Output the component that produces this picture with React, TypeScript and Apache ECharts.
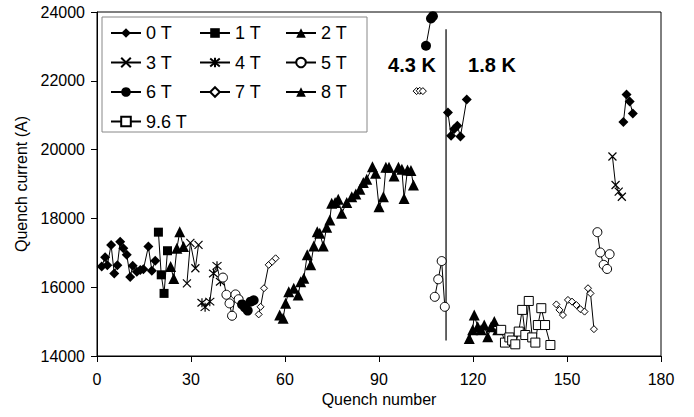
import React, { useEffect, useRef } from 'react';
import * as echarts from 'echarts';

const FONT = '"Liberation Sans", Arial, sans-serif';

const xMin = 0, xMax = 180, xStep = 30;
const yMin = 14000, yMax = 24000, yStep = 2000;

// 0 T
const t0a = [[1.5,16600],[2.6,16870],[3.3,16640],[4.5,17230],[5.5,16400],[6.5,16640],[7.4,17320],[8.4,17130],[9.5,16940],[10.6,16300],[11.4,16620],[12.7,16450],[13.8,16500],[14.8,16520],[16.4,17180],[17.5,16480],[18.6,16770]];
const t0b = [[112,21080],[113,20400],[114,20600],[115,20690],[116,20380],[118,21460]];
const t0c = [[168,20800],[169,21600],[170,21400],[171,21050]];
// 1 T
const t1 = [[19.6,17600],[20.5,16360],[21.4,15820],[22.5,17060]];
// 2 T
const t2 = [[23.5,16600],[24.5,16250],[25.5,17130],[26.4,17610],[27.6,17180]];
// 3 T
const t3a = [[28.7,16110],[29.8,17290],[31.4,16550],[32.4,17230]];
const t3b = [[164.5,19800],[165.5,18970],[166.5,18780],[167.5,18630]];
// 4 T
const t4 = [[33.5,15550],[34.5,15420],[36,15580],[37.2,16400],[38.3,16620],[39.4,16160]];
// 5 T
const t5a = [[40.2,16280],[41.3,15780],[42.3,15530],[43.1,15170],[44.2,15790],[45.2,15650]];
const t5b = [[107.8,15720],[108.9,16230],[110,16760],[111,15430]];
const t5c = [[159.7,17600],[160.6,17010],[161.7,16650],[162.8,16530],[163.6,16960]];
// 6 T
const t6a = [[46.3,15500],[47.2,15410],[48.1,15320],[49,15580],[50,15620]];
const t6b = [[105,23020],[106.6,23810],[107.2,23880]];
// 7 T
const t7a = [[51.6,15210],[52.2,15430],[53.3,15970],[54.8,16650],[55.9,16740],[57,16840]];
const t7b = [[102,21700],[103,21710],[104,21700]];
const t7c = [[146.6,15500],[147.6,15340],[148.7,15190],[150.3,15630],[151.6,15580],[153,15480],[154.3,15360],[155.6,15290],[156.7,15970],[157.5,15820],[158.6,14780]];
// 8 T
const t8a = [[58.3,15190],[59.4,15100],[60.2,15530],[61.2,15870],[62.8,15970],[64.2,15770],[65,16160],[66,16260],[67.1,16940],[68.2,16650],[69.2,17200],[70.3,17610],[71.1,17570],[72.2,17200],[73.3,17740],[74.3,17950],[74.9,18440],[76,18460],[77,18560],[78.1,18150],[79.7,18460],[81.3,18630],[82.6,18710],[83.9,18850],[85,19040],[86.1,19140],[87.9,19500],[88.9,19310],[90,18340],[91.4,18630],[92.2,19490],[93.2,19490],[94.8,19230],[96.2,19490],[97.3,19430],[98,18580],[99.1,19410],[100.2,19390],[101,18970]];
const t8b = [[118.8,14510],[119.9,14760],[120.4,15190],[121.5,14850],[122.6,14760],[123.6,14900],[124.7,14560],[125.8,14850],[126.8,15000],[127.9,14760]];
// 9.6 T
const t96 = [[129,14760],[130.2,14390],[131.6,14540],[132.5,14450],[133.5,14340],[134.6,14710],[135.7,15340],[136.7,14610],[137.8,15600],[138.9,14540],[139.9,14390],[140.7,14900],[141.8,15390],[143,14900],[144.7,14320]];

// divider between 4.3 K and 1.8 K
const divider = [[111.4,23500],[111.4,14450]];

const legendCols = [
  ['0 T', '3 T', '6 T', '9.6 T'],
  ['1 T', '4 T', '7 T'],
  ['2 T', '5 T', '8 T'],
];

const X_PATH = 'path://M0,0L10,10M10,0L0,10';
const STAR_PATH = 'path://M0,0L10,10M10,0L0,10M5,-1L5,11';

type Sty = { symbol: string; size: number; fill: string; bw: number };
const styles: Record<string, Sty> = {
  '0 T': { symbol: 'diamond', size: 10, fill: '#000', bw: 0 },
  '1 T': { symbol: 'rect', size: 9, fill: '#000', bw: 0 },
  '2 T': { symbol: 'triangle', size: 11, fill: '#000', bw: 0 },
  '3 T': { symbol: X_PATH, size: 8, fill: '#000', bw: 1.2 },
  '4 T': { symbol: STAR_PATH, size: 9, fill: '#000', bw: 1.2 },
  '5 T': { symbol: 'circle', size: 9, fill: '#fff', bw: 1 },
  '6 T': { symbol: 'circle', size: 10, fill: '#000', bw: 0 },
  '7 T': { symbol: 'diamond', size: 7, fill: '#fff', bw: 1 },
  '8 T': { symbol: 'triangle', size: 11, fill: '#000', bw: 0 },
  '9.6 T': { symbol: 'rect', size: 9, fill: '#fff', bw: 1 },
};

const segments: [string, number[][]][] = [
  ['0 T', t0a], ['0 T', t0b], ['0 T', t0c],
  ['1 T', t1], ['2 T', t2],
  ['3 T', t3a], ['3 T', t3b],
  ['4 T', t4],
  ['5 T', t5a], ['5 T', t5b], ['5 T', t5c],
  ['6 T', t6a], ['6 T', t6b],
  ['7 T', t7a], ['7 T', t7b], ['7 T', t7c],
  ['8 T', t8a], ['8 T', t8b],
  ['9.6 T', t96],
];

export default function App() {
  const ref = useRef<HTMLDivElement>(null);
  useEffect(() => {
    const chart = echarts.init(ref.current!, null, { renderer: 'svg' });
    const series: any[] = segments.map(([name, data]) => {
      const s = styles[name];
      return {
        name,
        type: 'line',
        data,
        symbol: s.symbol,
        symbolSize: s.size,
        showAllSymbol: true,
        lineStyle: { color: '#000', width: 1 },
        itemStyle: { color: s.fill, borderColor: '#000', borderWidth: s.bw },
        emphasis: { disabled: true },
        z: 2,
      };
    });
    series.push({
      name: 'divider',
      type: 'line',
      data: divider,
      symbol: 'none',
      lineStyle: { color: '#333', width: 1.5 },
      z: 1,
    });
    const colLefts = [110, 199, 285];
    const legends = legendCols.map((col, i) => ({
      orient: 'vertical',
      left: colLefts[i],
      top: 24,
      padding: 0,
      itemWidth: 30,
      itemHeight: 12,
      itemGap: 11.5,
      selectedMode: false,
      data: col,
      z: 5,
      textStyle: { fontFamily: FONT, fontSize: 18, color: '#000', lineHeight: 17 },
    }));
    chart.setOption({
      animation: false,
      backgroundColor: '#fff',
      grid: { left: 97, right: 33, top: 12, bottom: 61, show: true, borderColor: '#000', borderWidth: 1, containLabel: false },
      legend: legends,
      xAxis: {
        type: 'value', min: xMin, max: xMax, interval: xStep,
        name: 'Quench number', nameLocation: 'middle', nameGap: 35,
        nameTextStyle: { fontFamily: FONT, fontSize: 16, color: '#000' },
        axisLine: { lineStyle: { color: '#000', width: 1 } },
        axisTick: { show: true, length: 6, lineStyle: { color: '#000' } },
        axisLabel: { fontFamily: FONT, fontSize: 16, color: '#000', margin: 15 },
        splitLine: { show: false },
      },
      yAxis: {
        type: 'value', min: yMin, max: yMax, interval: yStep,
        name: 'Quench current (A)', nameLocation: 'middle', nameGap: 57,
        nameTextStyle: { fontFamily: FONT, fontSize: 16, color: '#000' },
        axisLine: { show: true, lineStyle: { color: '#000', width: 1 } },
        axisTick: { show: true, length: 6, lineStyle: { color: '#000' } },
        axisLabel: { fontFamily: FONT, fontSize: 16, color: '#000', margin: 12, formatter: (v: number) => String(v) },
        splitLine: { show: false },
      },
      graphic: [
        { type: 'rect', shape: { x: 102, y: 17, width: 265, height: 115 }, style: { fill: '#fff', stroke: '#888', lineWidth: 1 }, z: 3 },
        { type: 'text', x: 412, y: 65, style: { text: '4.3 K', font: 'bold 20px ' + FONT, fill: '#000', align: 'center', verticalAlign: 'middle' }, z: 5 },
        { type: 'text', x: 492, y: 65, style: { text: '1.8 K', font: 'bold 20px ' + FONT, fill: '#000', align: 'center', verticalAlign: 'middle' }, z: 5 },
      ],
      series,
    });
    return () => chart.dispose();
  }, []);
  return <div ref={ref} style={{ position: 'fixed', left: 0, top: 0, width: 694, height: 417 }} />;
}
